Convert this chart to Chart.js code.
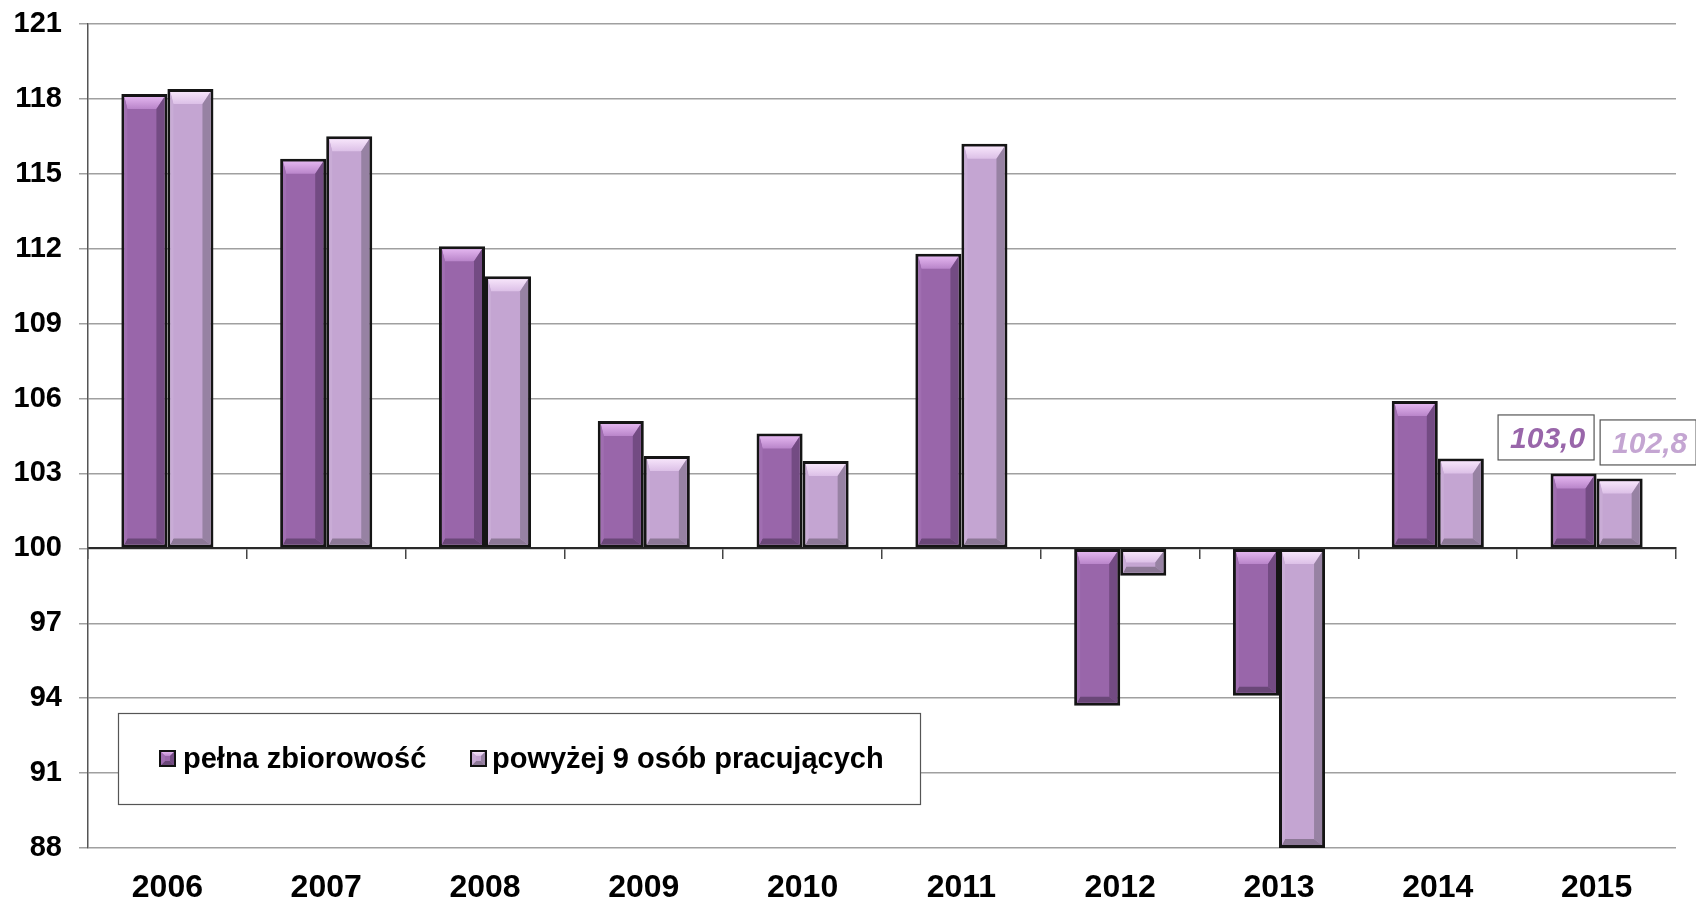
<!DOCTYPE html>
<html>
<head>
<meta charset="utf-8">
<script src="https://cdn.jsdelivr.net/npm/chart.js@4.4.1/dist/chart.umd.min.js"></script>
<style>
  html, body { margin: 0; padding: 0; background: #fff; }
  #wrap { width: 1696px; height: 900px; position: relative; }
</style>
</head>
<body>
<div id="wrap"><canvas id="chart"></canvas></div>
<script>
// values (index, previous year = 100)
const years = ['2006', '2007', '2008', '2009', '2010', '2011', '2012', '2013', '2014', '2015']
const fullPopulation = [118.2, 115.6, 112.1, 105.1, 104.6, 111.8, 93.7, 94.1, 105.9, 103.0]
const over9Employed = [118.4, 116.5, 110.9, 103.7, 103.5, 116.2, 98.9, 88.0, 103.6, 102.8]
const yTicks = [88, 91, 94, 97, 100, 103, 106, 109, 112, 115, 118, 121]
const seriesNames = ['pełna zbiorowość', 'powyżej 9 osób pracujących']
const baseValue = 100

const FONT = '"Liberation Sans", Arial, sans-serif'

// bevel shades per series: main, top highlight, left, right, bottom
const shades = [
  { main: '#9966aa', top1: '#e2b4ee', top2: '#b985ca', left: '#a06eb1', right: '#734b83', bottom: '#6a4778' },
  { main: '#c4a5d2', top1: '#f6e4fa', top2: '#dcc0e7', left: '#c9acd6', right: '#9782a3', bottom: '#8c7896' }
]

function poly(ctx, pts, fill) {
  ctx.beginPath()
  ctx.moveTo(pts[0][0], pts[0][1])
  for (let i = 1; i < pts.length; i++) ctx.lineTo(pts[i][0], pts[i][1])
  ctx.closePath()
  ctx.fillStyle = fill
  ctx.fill()
}

function bevelRect(ctx, l, t, r, b, s, d) {
  const dt = Math.min(d.top, (b - t) / 2)
  const db = Math.min(d.bottom, (b - t) / 2)
  const dr = Math.min(d.right, (r - l) / 2)
  const dl = Math.min(d.left, (r - l) / 2)
  const g = ctx.createLinearGradient(0, t, 0, t + dt)
  g.addColorStop(0, s.top1)
  g.addColorStop(1, s.top2)
  poly(ctx, [[l, t], [r, t], [r - dr, t + dt], [l + dl, t + dt]], g)
  poly(ctx, [[r, t], [r, b], [r - dr, b - db], [r - dr, t + dt]], s.right)
  poly(ctx, [[l, b], [r, b], [r - dr, b - db], [l + dl, b - db]], s.bottom)
  poly(ctx, [[l, t], [l, b], [l + dl, b - db], [l + dl, t + dt]], s.left)
}

// draws the 3d bevel on every bar, using the element geometry from the library
const bevelPlugin = {
  id: 'bevel',
  afterDatasetsDraw(chart) {
    const ctx = chart.ctx
    ctx.save()
    chart.data.datasets.forEach((ds, di) => {
      const meta = chart.getDatasetMeta(di)
      const bw = ds.borderWidth
      meta.data.forEach(el => {
        const p = el.getProps(['x', 'y', 'base', 'width'], true)
        const l = p.x - p.width / 2 + bw
        const r = p.x + p.width / 2 - bw
        const t = Math.min(p.y, p.base) + bw
        const b = Math.max(p.y, p.base) - bw
        if (b - t < 1) return
        bevelRect(ctx, l, t, r, b, shades[di], { top: 12, bottom: 6, right: 8, left: 3 })
      })
    })
    ctx.restore()
  }
}

// boxed value labels over the last year
const valueLabelPlugin = {
  id: 'valueLabels',
  afterDraw(chart) {
    const ctx = chart.ctx
    const last = years.length - 1
    ctx.save()
    chart.data.datasets.forEach((ds, di) => {
      const el = chart.getDatasetMeta(di).data[last]
      const cx = el.x + (di === 0 ? -28 : 28)
      const bottom = el.y - 14
      const w = 96, h = 45
      ctx.fillStyle = '#fff'
      ctx.fillRect(cx - w / 2, bottom - h, w, h)
      ctx.strokeStyle = '#555'
      ctx.lineWidth = 1.2
      ctx.strokeRect(cx - w / 2 + 0.5, bottom - h + 0.5, w, h)
      ctx.font = 'italic bold 30px ' + FONT
      ctx.fillStyle = shades[di].main
      ctx.textAlign = 'center'
      ctx.textBaseline = 'alphabetic'
      ctx.fillText(ds.data[last].toFixed(1).replace('.', ','), cx + 2, bottom - h / 2 + 11)
    })
    ctx.restore()
  }
}

// boxed legend inside the plot area
const legendBoxPlugin = {
  id: 'legendBox',
  afterDraw(chart) {
    const ctx = chart.ctx
    const x0 = 118, y0 = 713, w = 802, h = 91
    ctx.save()
    ctx.fillStyle = '#fff'
    ctx.fillRect(x0, y0, w, h)
    ctx.strokeStyle = '#555'
    ctx.lineWidth = 1.2
    ctx.strokeRect(x0 + 0.5, y0 + 0.5, w, h)
    const items = [{ sx: 159, tx: 183 }, { sx: 470, tx: 492 }]
    ctx.font = 'bold 29px ' + FONT
    ctx.textBaseline = 'middle'
    chart.data.datasets.forEach((ds, di) => {
      const it = items[di]
      const sy = 750, sz = 17
      ctx.fillStyle = '#111'
      ctx.fillRect(it.sx, sy, sz, sz)
      ctx.fillStyle = shades[di].main
      ctx.fillRect(it.sx + 2, sy + 2, sz - 4, sz - 4)
      bevelRect(ctx, it.sx + 2, sy + 2, it.sx + sz - 2, sy + sz - 2, shades[di], { top: 4, bottom: 4, right: 4, left: 4 })
      ctx.fillStyle = '#000'
      ctx.textAlign = 'left'
      ctx.fillText(ds.label, it.tx, sy + sz / 2 + 1)
    })
    ctx.restore()
  }
}

const ctx = document.getElementById('chart')
new Chart(ctx.getContext('2d'), {
  type: 'bar',
  data: {
    labels: years,
    datasets: [
      {
        label: seriesNames[0],
        data: fullPopulation,
        backgroundColor: shades[0].main,
        borderColor: '#151515',
        borderWidth: 3,
        borderSkipped: false,
        base: baseValue
      },
      {
        label: seriesNames[1],
        data: over9Employed,
        backgroundColor: shades[1].main,
        borderColor: '#151515',
        borderWidth: 3,
        borderSkipped: false,
        base: baseValue
      }
    ]
  },
  options: {
    responsive: true,
    maintainAspectRatio: false,
    animation: false,
    events: [],
    layout: { padding: { top: 24, right: 20, left: 0, bottom: 0 } },
    datasets: { bar: { categoryPercentage: 0.58, barPercentage: 1 } },
    plugins: {
      legend: { display: false },
      title: { display: false },
      tooltip: { enabled: false }
    },
    scales: {
      x: {
        type: 'category',
        position: 'bottom',
        offset: true,
        grid: { display: false, drawTicks: false },
        border: { display: false },
        ticks: {
          color: '#000',
          font: { family: FONT, size: 32, weight: 'bold' },
          padding: 21,
          maxRotation: 0
        },
        afterFit(scale) { scale.height = 52 }
      },
      x2: {
        type: 'category',
        labels: years,
        position: { y: baseValue },
        offset: true,
        grid: { offset: true, drawOnChartArea: false, drawTicks: true, tickLength: 10, color: '#444', lineWidth: 1.5 },
        border: { display: true, color: '#2a2a2a', width: 2 },
        ticks: { display: false }
      },
      y: {
        min: 88,
        max: 121,
        afterBuildTicks(scale) { scale.ticks = yTicks.map(v => ({ value: v })) },
        grid: { color: '#a0a0a0', lineWidth: 1.5, tickLength: 9, drawTicks: true },
        border: { display: true, color: '#555', width: 1.5 },
        ticks: {
          color: '#000',
          font: { family: FONT, size: 29, weight: 'bold' },
          padding: 17
        },
        afterFit(scale) {
          scale.width = 88
          scale.paddingTop = 0
          scale.paddingBottom = 0
        }
      }
    }
  },
  plugins: [bevelPlugin, valueLabelPlugin, legendBoxPlugin]
})
</script>
</body>
</html>
